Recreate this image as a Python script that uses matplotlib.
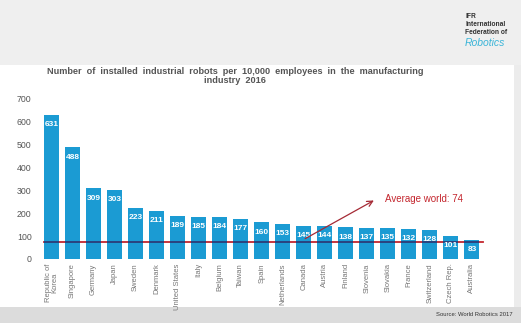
import numpy as np
import matplotlib.pyplot as plt
from matplotlib.patches import Rectangle

plt.rcParams['font.family'] = ['Liberation Sans', 'DejaVu Sans']

countries = ['Republic of\nKorea', 'Singapore', 'Germany', 'Japan', 'Sweden', 'Denmark',
             'United States', 'Italy', 'Belgium', 'Taiwan', 'Spain', 'Netherlands',
             'Canada', 'Austria', 'Finland', 'Slovenia', 'Slovakia', 'France',
             'Switzerland', 'Czech Rep.', 'Australia']
density = [631, 488, 309, 303, 223, 211, 189, 185, 184, 177, 160, 153,
           145, 144, 138, 137, 135, 132, 128, 101, 83]
world_avg = 74
yticks = [0, 100, 200, 300, 400, 500, 600, 700]

W, H = 521, 323
fig = plt.figure(figsize=(W / 100, H / 100), dpi=100)
fig.patch.set_facecolor('#ececec')

# slide background: grey header, white panel, grey footer
fig.patches.append(Rectangle((0, 1 - 65 / H), 1, 65 / H, transform=fig.transFigure,
                             facecolor='#efefef', edgecolor='none', zorder=-3))
fig.patches.append(Rectangle((0, 1 - 307 / H), 514 / W, 242 / H, transform=fig.transFigure,
                             facecolor='white', edgecolor='none', zorder=-2))
fig.patches.append(Rectangle((0, 0), 1, 16 / H, transform=fig.transFigure,
                             facecolor='#dcdcdc', edgecolor='none', zorder=-2))

ax = fig.add_axes([40 / W, 1 - 259 / H, 450 / W, 160 / H])
ax.set_facecolor('none')
x = np.arange(len(density))
bw = 0.71

# world average line: red behind the bars, dark where it crosses them
ax.plot([-0.35, 20.55], [world_avg, world_avg], color='#c4262e', lw=1.3, zorder=1)
ax.bar(x, density, width=bw, color='#1b9bd3', zorder=2)
ax.hlines([world_avg] * len(x), x - bw / 2, x + bw / 2, color='#2b3c78', lw=1.3, zorder=3)

for xi, v in zip(x, density):
    ax.annotate(str(v), (xi, v), xytext=(0, -7), textcoords='offset points',
                ha='center', va='center', color='white', fontsize=6,
                fontweight='bold', zorder=4)

ax.annotate('', xy=(15.45, 262), xytext=(11.95, 83),
            arrowprops=dict(arrowstyle='->', color='#a52a35', lw=0.9), zorder=5)
ax.text(15.85, 262, 'Average world: 74', color='#c4262e', fontsize=7,
        va='center', ha='left')

ax.set_xlim(-0.55, 20.86)
ax.set_ylim(0, 700)
ax.set_yticks(yticks)
ax.set_xticks(x)
ax.set_xticklabels(countries, rotation=90, fontsize=5.5, color='#777777',
                   linespacing=0.95)
ax.tick_params(axis='y', labelsize=6.3, colors='#555555', length=0, pad=6)
ax.tick_params(axis='x', length=0, pad=3)
for s in ax.spines.values():
    s.set_visible(False)

fig.text(235 / W, 1 - 76 / H,
         'Number  of  installed  industrial  robots  per  10,000  employees  in  the  manufacturing\nindustry  2016',
         ha='center', va='center', fontsize=6.6, fontweight='bold', color='#555555',
         linespacing=1.1)

# IFR logo text
fig.text(465 / W, 1 - 25 / H, 'IFR\nInternational\nFederation of', ha='left', va='center',
         fontsize=4.8, fontweight='bold', color='#333333', linespacing=1.2)
fig.text(465 / W, 1 - 43 / H, 'Robotics', ha='left', va='center', fontsize=7.5,
         style='italic', color='#3bb5d8')

fig.text(513 / W, 1 - 315 / H, 'Source: World Robotics 2017', ha='right', va='center',
         fontsize=4.2, color='#333333')

fig.savefig('out.png', dpi=100, facecolor=fig.get_facecolor())
